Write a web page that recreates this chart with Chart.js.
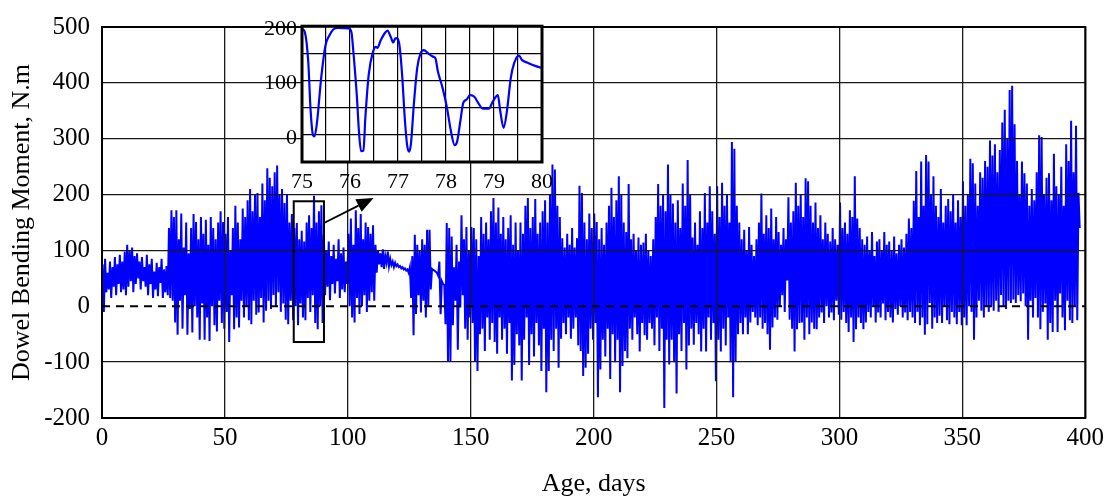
<!DOCTYPE html>
<html>
<head>
<meta charset="utf-8">
<script src="https://cdn.jsdelivr.net/npm/chart.js@4.4.0/dist/chart.umd.min.js"></script>
<style>
  body { margin: 0; background: #fff; }
  #wrap { position: relative; width: 1109px; height: 500px; }
  #main { position: absolute; left: 0; top: 0; }
  #inset { position: absolute; left: 240px; top: 8px; }
</style>
</head>
<body>
<div id="wrap">
  <canvas id="main" width="1109" height="500"></canvas>
  <canvas id="inset" width="320" height="190"></canvas>
</div>
<script>
// daily high / low of the dowel moment (N.m), day 0 .. 397
const dailyPeaks = [
  75, 85, 60, 80, 70, 88, 75, 92, 80, 98,
  110, 100, 105, 90, 95, 80, 88, 70, 92, 75,
  85, 62, 78, 70, 85, 66, 72, 140, 172, 160,
  172, 120, 166, 105, 150, 95, 140, 165, 151, 120,
  160, 130, 155, 110, 160, 140, 120, 150, 170, 151,
  130, 160, 100, 140, 180, 150, 120, 175, 160, 190,
  210, 170, 200, 203, 160, 220, 190, 247, 230, 215,
  240, 252, 200, 210, 185, 200, 150, 165, 140, 149,
  120, 135, 116, 150, 163, 140, 198, 150, 170, 181,
  128, 100, 116, 90, 110, 85, 120, 95, 105, 80,
  130, 157, 110, 172, 140, 165, 120, 150, 142, 130,
  145, 110, 100, 95, 102, 90, 98, 85, 80, 78,
  75, 72, 70, 68, 66, 70, 90, 128, 110, 100,
  120, 110, 137, 137, 67, 64, 60, 80, 45, 38,
  149, 140, 125, 70, 110, 80, 163, 120, 142, 100,
  142, 140, 120, 90, 160, 130, 150, 120, 170, 194,
  150, 177, 130, 160, 120, 140, 163, 110, 150, 100,
  150, 130, 180, 194, 140, 160, 192, 130, 150, 170,
  190, 150, 200, 254, 245, 180, 160, 122, 105, 130,
  110, 140, 105, 122, 216, 203, 150, 120, 166, 140,
  166, 151, 120, 140, 110, 150, 180, 212, 160, 190,
  233, 200, 150, 133, 219, 120, 130, 100, 123, 110,
  114, 130, 100, 90, 120, 160, 219, 180, 200, 170,
  254, 200, 184, 150, 190, 140, 220, 180, 262, 200,
  123, 150, 110, 170, 140, 203, 150, 215, 170, 130,
  215, 160, 221, 180, 200, 150, 294, 282, 180, 150,
  120, 137, 100, 142, 110, 90, 120, 150, 202, 130,
  163, 140, 175, 120, 160, 133, 110, 140, 120, 195,
  150, 170, 221, 180, 200, 160, 229, 224, 180, 150,
  186, 140, 163, 120, 150, 130, 116, 140, 120, 110,
  186, 140, 150, 130, 172, 160, 233, 157, 140, 120,
  110, 125, 100, 133, 90, 116, 120, 100, 133, 110,
  116, 100, 125, 95, 110, 120, 105, 130, 157, 140,
  189, 242, 160, 259, 180, 271, 259, 200, 233, 180,
  160, 210, 150, 180, 192, 170, 201, 150, 190, 160,
  224, 180, 200, 264, 256, 220, 180, 240, 230, 260,
  250, 297, 270, 290, 240, 280, 329, 352, 300, 387,
  395, 326, 260, 200, 259, 238, 220, 180, 210, 190,
  240, 306, 303, 200, 230, 238, 190, 273, 215, 200,
  250, 180, 290, 260, 332, 240, 323, 203
];
const dailyTroughs = [
  -10, 25, 30, 15, 35, 20, 40, 25, 30, 20,
  35, 45, 25, 40, 50, 30, 45, 35, 20, 40,
  15, 30, 18, 42, 15, 25, 20, 15, 10, -29,
  -51, 10, -40, 20, -51, -5, -47, 0, -20, -60,
  5, -60, -20, -62, 0, -34, -45, 10, -30, -40,
  -10, -64, 20, -41, -20, -38, 10, -20, 0, -25,
  -32, 10, -15, -11, 15, -29, -8, 10, -5, 20,
  0, 25, -10, 5, -24, -32, 10, -25, 0, -34,
  5, -20, -25, 15, -10, 20, -30, -41, 0, -30,
  20, 35, 11, 40, 23, 45, 15, 30, 25, 40,
  0, -20, -29, 15, -14, 0, 20, -10, 10, 25,
  10, 60, 75, 70, 67, 78, 72, 74, 70, 72,
  70, 68, 66, 64, 60, 15, -52, -14, 20, -11,
  10, -20, 0, 30, 65, 62, 55, -14, 40, -32,
  -98, -98, -34, 10, -78, -2, 20, -40, -60, -20,
  -30, -98, -116, -50, -40, -80, -20, -60, -30, -64,
  -85, -20, -60, -40, -85, -30, -133, -105, -50, -70,
  -133, -60, -20, -105, -50, -90, -30, -70, -116, -40,
  -154, -116, -60, -80, -40, -110, -58, -30, -50, -20,
  -58, -40, -20, -70, -80, -125, -110, -85, -40, -60,
  -30, -163, -113, -60, -90, -40, -130, -50, -100, -60,
  -154, -107, -80, -93, -40, -60, -20, -50, -81, -30,
  -52, -60, -30, -40, -70, -20, -80, -40, -182, -60,
  -104, -60, -100, -156, -50, -80, -30, -113, -70, -40,
  -69, -30, -50, -81, -40, -81, -20, -60, -30, -134,
  -60, -81, -40, -70, -20, -100, -163, -99, -50, -30,
  -50, -20, -50, -29, -10, -20, -34, -20, -40, -30,
  -50, -78, -38, -20, -24, 0, 20, -10, 46, -24,
  -40, -81, -41, -30, -29, -60, -20, -50, -29, -40,
  -41, -20, -11, -30, 0, -20, -11, -25, 10, -15,
  -24, -10, -30, -46, -20, -64, -41, -20, -30, -41,
  -29, -10, -20, 0, -29, -11, -20, 5, -25, -10,
  -20, -29, -5, -15, 0, -20, -11, -25, -10, -20,
  -30, -10, -34, -20, -51, -32, 6, -40, -20, -30,
  -17, -30, 0, -25, -32, -10, -20, -32, -10, -34,
  -20, -34, 0, -10, -60, -20, 10, -8, -20, 0,
  -10, 1, -8, 10, -10, 20, 0, -5, 10, 6,
  12, 6, 20, 9, 23, 0, -60, 10, -20, 15,
  -20, -41, -10, 5, -60, -30, -46, 10, -46, 23,
  -20, -43, 10, -25, -30, 0, -25, 140
];

// inset: days 75-80 in detail
const insetDays = [75.01, 75.06, 75.13, 75.18, 75.23, 75.26, 75.31, 75.4, 75.49, 75.57,
  75.65, 75.75, 75.97, 76.03, 76.07, 76.14, 76.19, 76.23, 76.28, 76.32,
  76.39, 76.48, 76.54, 76.57, 76.64, 76.73, 76.78, 76.85, 76.9, 76.94,
  76.98, 77.03, 77.09, 77.14, 77.19, 77.23, 77.27, 77.33, 77.4, 77.47,
  77.54, 77.63, 77.73, 77.78, 77.83, 77.93, 78.02, 78.1, 78.18, 78.23,
  78.3, 78.36, 78.43, 78.5, 78.59, 78.67, 78.77, 78.89, 78.98, 79.08,
  79.13, 79.2, 79.27, 79.35, 79.42, 79.52, 79.58, 79.72, 79.89, 80.0];
const insetValues = [195, 189, 135, 44, -1, -3, 21, 105, 165, 183,
  194, 197, 196, 189, 153, 75, 2, -30, -29, 32,
  111, 153, 162, 160, 174, 188, 192, 180, 170, 177,
  178, 165, 105, 32, -19, -31, -16, 56, 123, 150,
  156, 150, 144, 141, 117, 86, 50, 8, -19, -13,
  26, 59, 65, 73, 70, 59, 48, 48, 62, 73,
  44, 13, 44, 105, 132, 146, 138, 132, 126, 123];

const xTicksMain = { min: 0, max: 400, step: 50 };
const yTicksMain = { min: -200, max: 500, step: 100 };

// zoom box and arrow annotation (data units)
const boxDays = [78, 90.3];
const boxMoments = [-64, 188];
const arrowFrom = [90.3, 149];
const arrowTo = [110.5, 194];

Chart.defaults.font.family = '"Liberation Serif", "Times New Roman", serif';
Chart.defaults.color = '#000';

const series = [];
dailyPeaks.forEach((p, i) => {
  series.push({ x: i + 0.25, y: p });
  series.push({ x: i + 0.75, y: dailyTroughs[i] });
});

const overlay = {
  id: 'overlay',
  afterDraw(chart) {
    const { ctx, chartArea: a, scales: { x, y } } = chart;
    ctx.save();
    // dashed zero line
    const y0 = y.getPixelForValue(0);
    ctx.strokeStyle = '#000';
    ctx.lineWidth = 2;
    ctx.setLineDash([8, 6]);
    ctx.beginPath();
    ctx.moveTo(a.left, y0);
    ctx.lineTo(a.right, y0);
    ctx.stroke();
    ctx.setLineDash([]);

    // box
    ctx.lineWidth = 2;
    const bx0 = x.getPixelForValue(boxDays[0]), bx1 = x.getPixelForValue(boxDays[1]);
    const by0 = y.getPixelForValue(boxMoments[1]), by1 = y.getPixelForValue(boxMoments[0]);
    ctx.strokeRect(bx0, by0, bx1 - bx0, by1 - by0);

    // arrow
    const ax0 = x.getPixelForValue(arrowFrom[0]), ay0 = y.getPixelForValue(arrowFrom[1]);
    const ax1 = x.getPixelForValue(arrowTo[0]), ay1 = y.getPixelForValue(arrowTo[1]);
    const ang = Math.atan2(ay1 - ay0, ax1 - ax0);
    const hl = 17, hw = 7;
    const bxh = ax1 - hl * Math.cos(ang), byh = ay1 - hl * Math.sin(ang);
    ctx.lineWidth = 1.8;
    ctx.beginPath();
    ctx.moveTo(ax0, ay0);
    ctx.lineTo(bxh, byh);
    ctx.stroke();
    ctx.fillStyle = '#000';
    ctx.beginPath();
    ctx.moveTo(ax1, ay1);
    ctx.lineTo(bxh + hw * Math.sin(ang), byh - hw * Math.cos(ang));
    ctx.lineTo(bxh - hw * Math.sin(ang), byh + hw * Math.cos(ang));
    ctx.closePath();
    ctx.fill();

    // frame
    ctx.lineWidth = 2;
    ctx.strokeRect(a.left, a.top, a.right - a.left, a.bottom - a.top);
    ctx.restore();
  }
};

new Chart(document.getElementById('main'), {
  type: 'line',
  data: {
    datasets: [{
      data: series,
      borderColor: '#0000ff',
      borderWidth: 2,
      pointRadius: 0,
      tension: 0,
      fill: false
    }]
  },
  options: {
    responsive: false,
    animation: false,
    layout: { padding: { top: 17, right: 19, left: 0, bottom: 0 } },
    plugins: { legend: { display: false }, tooltip: { enabled: false } },
    scales: {
      x: {
        type: 'linear',
        min: xTicksMain.min, max: xTicksMain.max,
        ticks: { stepSize: xTicksMain.step, autoSkip: false, maxRotation: 0, padding: 5, font: { size: 25 } },
        grid: { color: '#1a1a1a', lineWidth: 1.3, drawTicks: false, z: 1 },
        border: { display: false },
        title: { display: true, text: 'Age, days', font: { size: 26 }, padding: { top: 0, bottom: 0 } },
        afterFit: s => { s.height = 82; }
      },
      y: {
        min: yTicksMain.min, max: yTicksMain.max,
        ticks: { stepSize: yTicksMain.step, autoSkip: false, padding: 12, font: { size: 25 } },
        grid: {
          color: c => (c.tick && c.tick.value === 0) ? 'rgba(0,0,0,0)' : '#1a1a1a',
          lineWidth: 1.3, drawTicks: false, z: 1
        },
        border: { display: false },
        title: { display: true, text: 'Dowel Bending Moment, N.m', font: { size: 26 }, padding: { top: 7, bottom: 0 } },
        afterFit: s => { s.width = 102; }
      }
    }
  },
  plugins: [overlay]
});

const insetBack = {
  id: 'insetBack',
  beforeDraw(chart) {
    const { ctx, chartArea: a } = chart;
    ctx.save();
    ctx.fillStyle = '#fff';
    ctx.fillRect(a.left, a.top, a.right - a.left, a.bottom - a.top);
    ctx.restore();
  },
  afterDraw(chart) {
    const { ctx, chartArea: a } = chart;
    ctx.save();
    ctx.strokeStyle = '#000';
    ctx.lineWidth = 3;
    ctx.strokeRect(a.left, a.top, a.right - a.left, a.bottom - a.top);
    ctx.restore();
  }
};

new Chart(document.getElementById('inset'), {
  type: 'line',
  data: {
    datasets: [{
      data: insetDays.map((d, i) => ({ x: d, y: insetValues[i] })),
      borderColor: '#0000ff',
      borderWidth: 2.2,
      pointRadius: 0,
      cubicInterpolationMode: 'monotone',
      fill: false
    }]
  },
  options: {
    responsive: false,
    animation: false,
    layout: { padding: { top: 16, right: 11, left: 0, bottom: 0 } },
    plugins: { legend: { display: false }, tooltip: { enabled: false } },
    scales: {
      x: {
        type: 'linear', min: 75, max: 80,
        ticks: {
          stepSize: 0.5, autoSkip: false, maxRotation: 0, padding: 7, font: { size: 22 },
          callback: v => Math.abs(v - Math.round(v)) < 1e-6 ? Math.round(v) : ''
        },
        grid: { color: '#000', lineWidth: 1.2, drawTicks: false },
        border: { display: false },
        afterFit: s => { s.height = 36; }
      },
      y: {
        min: -50, max: 200,
        ticks: {
          stepSize: 50, autoSkip: false, padding: 5, labelOffset: 3, font: { size: 22 },
          callback: v => v % 100 === 0 ? String(v) : ''
        },
        grid: { color: '#000', lineWidth: 1.2, drawTicks: false },
        border: { display: false },
        afterFit: s => { s.width = 62; }
      }
    }
  },
  plugins: [insetBack]
});
</script>
</body>
</html>
